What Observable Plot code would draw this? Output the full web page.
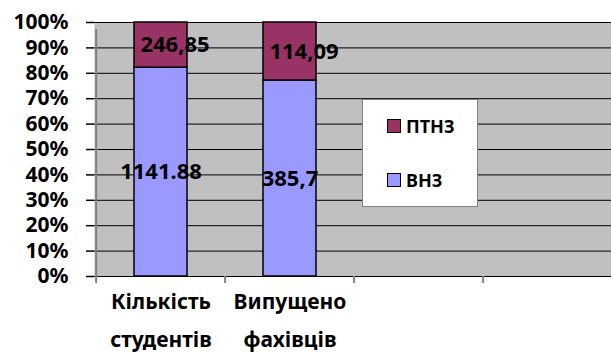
<!DOCTYPE html>
<html>
<head>
<meta charset="utf-8">
<script src="https://cdn.jsdelivr.net/npm/d3@7"></script>
<script src="https://cdn.jsdelivr.net/npm/@observablehq/plot@0.6"></script>
<style>
  body { margin: 0; background: white; }
  #wrap { position: relative; width: 611px; height: 354px; font-family: "Noto Sans", sans-serif; font-weight: bold; }
  #legend { position: absolute; left: 362px; top: 99px; width: 114px; height: 106px; background: white; border: 1px solid #808080; }
  .item { position: absolute; left: 24px; display: flex; align-items: center; font-size: 18px; color: black; }
  .sw { width: 12px; height: 12px; border: 1.5px solid black; margin-right: 5px; }
</style>
</head>
<body>
<div id="wrap">
  <div id="chart"></div>
  <div id="legend"></div>
</div>
<script>
const categories = ["Кількість\nстудентів", "Випущено\nфахівців"];
const slots = [...categories, "", " "];
const series = ["ВНЗ", "ПТНЗ"];
const vnz = [1141.88, 385.7];
const ptnz = [246.85, 114.09];
const vnzLabels = ["1141.88", "385,7"];
const ptnzLabels = ["246,85", "114,09"];
const yTicks = [0, 0.1, 0.2, 0.3, 0.4, 0.5, 0.6, 0.7, 0.8, 0.9, 1];
const colors = ["#9999FF", "#993366"];

const data = categories.flatMap((c, i) => [
  {cat: c, series: series[0], value: vnz[i], label: vnzLabels[i]},
  {cat: c, series: series[1], value: ptnz[i], label: ptnzLabels[i]}
]);

const W = 611, H = 354, mL = 94, mR = -2, mT = 22, mB = 78;
const step = (W - mL - mR) / slots.length;

const chart = Plot.plot({
  width: W, height: H,
  marginLeft: mL, marginRight: mR, marginTop: mT, marginBottom: mB,
  style: {fontFamily: "Noto Sans", fontWeight: "bold", background: "white", color: "black", overflow: "hidden"},
  x: {domain: slots, paddingInner: 0.59, paddingOuter: 0.295, axis: null, label: null},
  y: {domain: [0, 1], axis: null, label: null},
  color: {domain: series, range: colors},
  marks: [
    Plot.frame({fill: "#C0C0C0", stroke: "none"}),
    Plot.ruleY(yTicks, {stroke: "black", strokeWidth: 1}),
    Plot.ruleX([slots[0]], {y1: 0, y2: 1, dx: -step / 2, stroke: "#808080", strokeWidth: 2, insetBottom: -7}),
    Plot.ruleX(slots, {y1: 0, y2: 0, dx: -step / 2, stroke: "#808080", strokeWidth: 2, insetBottom: -7}),
    Plot.axisY({ticks: yTicks, tickFormat: d3.format(".0%"), tickSize: 8, tickPadding: 18, fontSize: 21, stroke: "black", strokeWidth: 1.5, label: null}),
    Plot.axisX({tickSize: 0, tickPadding: 6, fontSize: 21, lineHeight: 1.8, label: null}),
    Plot.barY(data, {x: "cat", y: "value", fill: "series", stroke: "black", strokeWidth: 1.5, offset: "normalize"}),
    Plot.text(data, Plot.filter(d => d.series === series[0], Plot.stackY({x: "cat", y: "value", z: "series", text: "label", offset: "normalize", fontSize: 22, fill: "black"}))),
    Plot.text(data, Plot.filter(d => d.series === series[1], Plot.stackY({x: "cat", y: "value", z: "series", text: "label", offset: "normalize", fontSize: 22, fill: "black", dx: 14})))
  ]
});
document.getElementById("chart").appendChild(chart);

const legend = document.getElementById("legend");
[[series[1], colors[1], 14], [series[0], colors[0], 68]].forEach(([name, col, top]) => {
  const it = document.createElement("div");
  it.className = "item";
  it.style.top = top + "px";
  const sw = document.createElement("div");
  sw.className = "sw";
  sw.style.background = col;
  it.appendChild(sw);
  it.appendChild(document.createTextNode(name));
  legend.appendChild(it);
});
</script>
</body>
</html>
